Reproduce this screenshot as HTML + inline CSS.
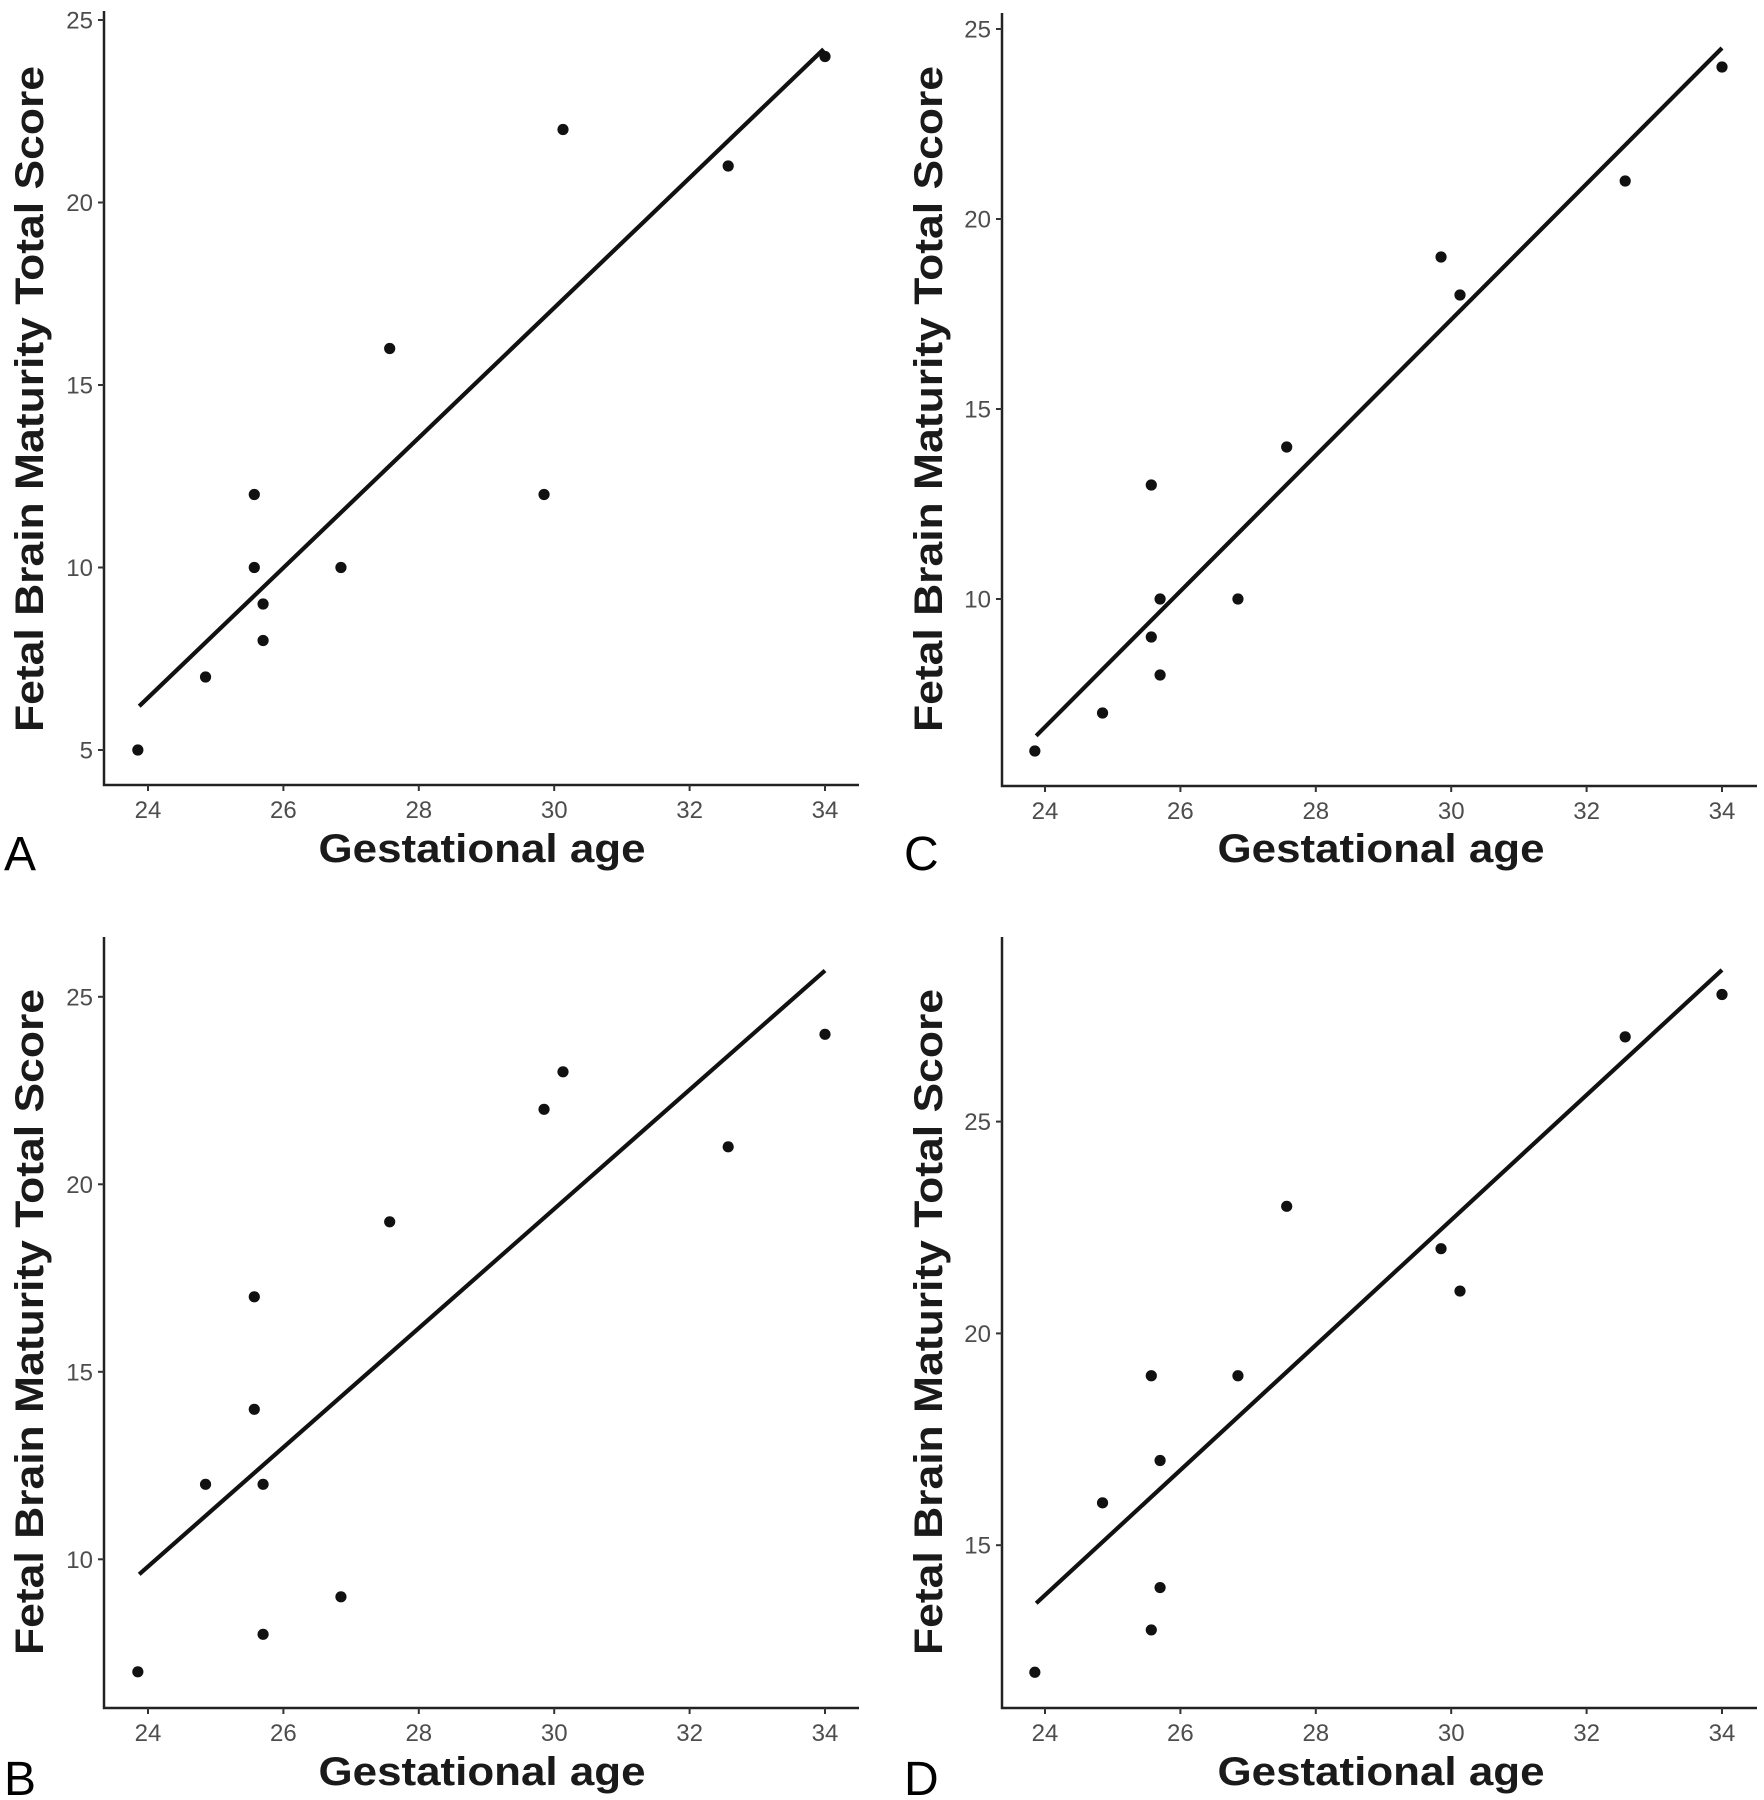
<!DOCTYPE html>
<html><head><meta charset="utf-8"><style>
html,body{margin:0;padding:0;background:#fff}
svg{display:block}
.tk{font-family:"Liberation Sans",sans-serif;font-size:24px;fill:#4d4d4d}
.ti{font-family:"Liberation Sans",sans-serif;font-size:40px;font-weight:bold;fill:#1a1a1a}
.lt{font-family:"Liberation Sans",sans-serif;font-size:48px;fill:#000}
</style></head><body>
<svg id="s" width="1764" height="1800" xmlns="http://www.w3.org/2000/svg"></svg>
<script>
const xs=[23.85,24.85,25.57,25.57,25.7,25.7,26.85,27.57,29.85,30.13,32.57,34.0];
const P=[
 {ax:104,ay:785,top:11,right:859,x24:148,xu:67.7,y0v:25,y0:20,yu:36.5,ticks:[5,10,15,20,25],
  ys:[5,7,12,10,9,8,10,16,12,22,21,24],l:[23.87,6.2,33.98,24.2],tx:29,ty:399,xt:482,xty:862,L:"A",lx:4,ly:870},
 {ax:1002,ay:786,top:13,right:1757,x24:1045,xu:67.7,y0v:25,y0:29,yu:38,ticks:[10,15,20,25],
  ys:[6,7,13,9,10,8,10,14,19,18,21,24],l:[23.87,6.4,34,24.5],tx:928,ty:399,xt:1381,xty:862,L:"C",lx:904,ly:870},
 {ax:104,ay:1708,top:937,right:859,x24:148,xu:67.7,y0v:25,y0:996.8,yu:37.5,ticks:[10,15,20,25],
  ys:[7,12,17,14,12,8,9,19,22,23,21,24],l:[23.87,9.6,34,25.7],tx:29,ty:1322,xt:482,xty:1785,L:"B",lx:4,ly:1795},
 {ax:1002,ay:1708,top:937,right:1757,x24:1045,xu:67.7,y0v:25,y0:1121.6,yu:42.36,ticks:[15,20,25],
  ys:[12,16,19,13,17,14,19,23,22,21,27,28],l:[23.87,13.63,34,28.58],tx:928,ty:1322,xt:1381,xty:1785,L:"D",lx:904,ly:1795}
];
let h='';
for(const p of P){
 const X=v=>p.x24+(v-24)*p.xu, Y=v=>p.y0+(p.y0v-v)*p.yu;
 h+=`<path d="M${p.ax} ${p.top}V${p.ay}H${p.right}" fill="none" stroke="#222" stroke-width="2.5"/>`;
 for(const t of p.ticks){const y=Y(t);h+=`<line x1="${p.ax-6}" y1="${y}" x2="${p.ax}" y2="${y}" stroke="#333" stroke-width="2"/><text class="tk" x="${p.ax-11}" y="${y+8.5}" text-anchor="end">${t}</text>`;}
 for(let t=24;t<=34;t+=2){const x=X(t);h+=`<line x1="${x}" y1="${p.ay}" x2="${x}" y2="${p.ay+6}" stroke="#333" stroke-width="2"/><text class="tk" x="${x}" y="${p.ay+33}" text-anchor="middle">${t}</text>`;}
 h+=`<line x1="${X(p.l[0])}" y1="${Y(p.l[1])}" x2="${X(p.l[2])}" y2="${Y(p.l[3])}" stroke="#111" stroke-width="4.2"/>`;
 xs.forEach((x,i)=>{h+=`<circle cx="${X(x)}" cy="${Y(p.ys[i])}" r="5.6" fill="#111"/>`;});
 h+=`<text class="ti" transform="translate(${p.tx+14},${p.ty}) rotate(-90)" text-anchor="middle" textLength="666" lengthAdjust="spacingAndGlyphs">Fetal Brain Maturity Total Score</text>`;
 h+=`<text class="ti" x="${p.xt}" y="${p.xty}" text-anchor="middle" textLength="327" lengthAdjust="spacingAndGlyphs">Gestational age</text>`;
 h+=`<text class="lt" x="${p.lx}" y="${p.ly}">${p.L}</text>`;
}
document.getElementById('s').innerHTML=h;
</script>
</body></html>
